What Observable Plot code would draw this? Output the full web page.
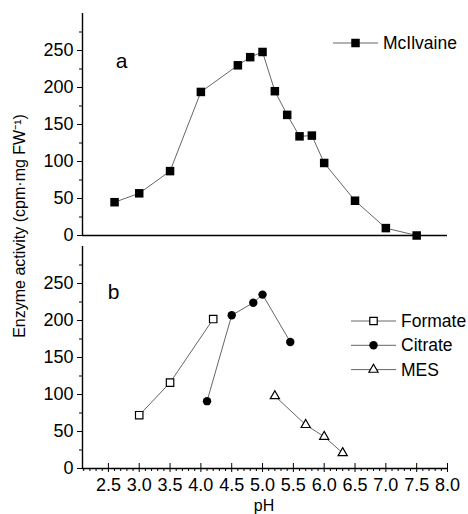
<!DOCTYPE html>
<html><head><meta charset="utf-8">
<script src="https://cdn.jsdelivr.net/npm/d3@7"></script>
<script src="https://cdn.jsdelivr.net/npm/@observablehq/plot@0.6"></script>
<style>
body{margin:0;background:#fff;}
#chart{position:relative;width:468px;height:514px;font-family:"Liberation Sans",Arial,sans-serif;color:#000;overflow:hidden;}
#chart svg{position:absolute;left:0;}
</style></head><body><div id="chart"></div>
<script>
// ---- data ----
const mcX = [2.6, 3.0, 3.5, 4.0, 4.6, 4.8, 5.0, 5.2, 5.4, 5.6, 5.8, 6.0, 6.5, 7.0, 7.5];
const mcY = [45, 57, 87, 194, 230, 241, 248, 195, 163, 134, 135, 98, 47, 10, 0];
const formateX = [3.0, 3.5, 4.2];
const formateY = [72, 116, 202];
const citrateX = [4.1, 4.5, 4.85, 5.0, 5.45];
const citrateY = [91, 207, 224, 235, 171];
const mesX = [5.2, 5.7, 6.0, 6.3];
const mesY = [98, 59, 43, 21];
const xTicks = [2.5, 3.0, 3.5, 4.0, 4.5, 5.0, 5.5, 6.0, 6.5, 7.0, 7.5, 8.0];
const xMinor = d3.range(21, 80).map(d => d / 10).filter(d => Math.round(d * 10) % 5 !== 0);
const yTicks = [0, 50, 100, 150, 200, 250];
const yMinor = [25, 75, 125, 175, 225, 275];
const seriesNames = ["Formate", "Citrate", "MES"];
const topName = "McIlvaine";
const yTitle = "Enzyme activity (cpm\u00B7mg FW\u207B\u00B9)";
const xTitle = "pH";

const xDomain = [2.08, 8.0];
const yDomain = [0, 300];
const font = '"Liberation Sans", Arial, sans-serif';
const lineColor = "#666";
const pts = (xs, ys) => xs.map((x, i) => ({x, y: ys[i]}));

const chart = document.getElementById("chart");

function yAxes() {
  return [
    Plot.axisY(yMinor, {tickSize: 3, tickFormat: () => "", label: null}),
    Plot.axisY(yTicks, {tickSize: 5, tickPadding: 4, label: null}),
  ];
}

// ---- top panel (a) ----
const topPlot = Plot.plot({
  width: 468, height: 240,
  marginLeft: 82, marginRight: 21, marginTop: 13, marginBottom: 5,
  style: {fontFamily: font, fontSize: "18px", color: "#000", background: "transparent", overflow: "visible"},
  x: {domain: xDomain, axis: null},
  y: {domain: yDomain, axis: null},
  marks: [
    ...yAxes(),
    Plot.ruleX([xDomain[0]], {stroke: "#000", strokeWidth: 1.4}),
    Plot.ruleY([0], {stroke: "#000", strokeWidth: 1.4}),
    Plot.line(pts(mcX, mcY), {x: "x", y: "y", stroke: lineColor, strokeWidth: 1}),
    Plot.dot(pts(mcX, mcY), {x: "x", y: "y", symbol: "square", r: 4.8, fill: "#000", stroke: "none"}),
    Plot.text(["a"], {frameAnchor: "top-left", dx: 39, dy: 48, fontSize: 21, textAnchor: "middle", lineAnchor: "middle"})
  ]
});
topPlot.style.top = "0px";
chart.appendChild(topPlot);

// ---- bottom panel (b) ----
const botPlot = Plot.plot({
  width: 468, height: 274,
  marginLeft: 82, marginRight: 21, marginTop: 6, marginBottom: 46,
  style: {fontFamily: font, fontSize: "18px", color: "#000", background: "transparent", overflow: "visible"},
  x: {domain: xDomain, axis: null},
  y: {domain: yDomain, axis: null},
  marks: [
    ...yAxes(),
    Plot.axisX(xMinor, {tickSize: 3, tickFormat: () => "", label: null}),
    Plot.axisX(xTicks, {tickSize: 4, tickPadding: 6, tickFormat: d3.format(".1f"), label: null}),
    Plot.ruleX(xTicks, {insetTop: 222 - 5, stroke: "#000", strokeWidth: 1}),
    Plot.ruleX([xDomain[0]], {stroke: "#000", strokeWidth: 1.4}),
    Plot.ruleY([0], {stroke: "#000", strokeWidth: 1.4}),
    Plot.line(pts(formateX, formateY), {x: "x", y: "y", stroke: lineColor, strokeWidth: 1}),
    Plot.line(pts(citrateX, citrateY), {x: "x", y: "y", stroke: lineColor, strokeWidth: 1}),
    Plot.line(pts(mesX, mesY), {x: "x", y: "y", stroke: lineColor, strokeWidth: 1}),
    Plot.dot(pts(formateX, formateY), {x: "x", y: "y", symbol: "square", r: 4.2, fill: "#fff", stroke: "#000", strokeWidth: 1.2}),
    Plot.dot(pts(citrateX, citrateY), {x: "x", y: "y", symbol: "circle", r: 4.2, fill: "#000", stroke: "none"}),
    Plot.dot(pts(mesX, mesY), {x: "x", y: "y", symbol: "triangle", r: 3.4, fill: "#fff", stroke: "#000", strokeWidth: 1.2}),
    Plot.text(["b"], {frameAnchor: "top-left", dx: 31, dy: 46, fontSize: 21, textAnchor: "middle", lineAnchor: "middle"})
  ]
});
botPlot.style.top = "240px";
chart.appendChild(botPlot);

// ---- legends ----
function legend(svg, items, x0, y0, step) {
  const g = d3.select(svg).append("g").attr("font-family", font).attr("font-size", 17.5).attr("text-anchor", "start");
  items.forEach((it, i) => {
    const y = y0 + i * step;
    g.append("line").attr("x1", x0).attr("x2", x0 + 45).attr("y1", y).attr("y2", y)
      .attr("stroke", lineColor).attr("stroke-width", 1);
    g.append("path").attr("transform", `translate(${x0 + 22.5},${y})`)
      .attr("d", d3.symbol(it.symbol, it.r * it.r * Math.PI)())
      .attr("fill", it.fill).attr("stroke", it.stroke).attr("stroke-width", it.sw);
    g.append("text").attr("x", x0 + 50).attr("y", y).attr("dy", "0.35em")
      .attr("fill", "#000").attr("text-anchor", "start").text(it.name);
  });
}
legend(topPlot, [{name: topName, symbol: d3.symbolSquare, r: 4.8, fill: "#000", stroke: "none", sw: 0}], 333, 43, 0);
legend(botPlot, [
  {name: seriesNames[0], symbol: d3.symbolSquare, r: 4.2, fill: "#fff", stroke: "#000", sw: 1.2},
  {name: seriesNames[1], symbol: d3.symbolCircle, r: 4.2, fill: "#000", stroke: "none", sw: 0},
  {name: seriesNames[2], symbol: d3.symbolTriangle, r: 3.4, fill: "#fff", stroke: "#000", sw: 1.2}
], 351, 81, 24.3);

// ---- axis titles (overlay) ----
const overlay = d3.select(chart).append("svg")
  .attr("width", 468).attr("height", 514)
  .style("top", "0px").style("pointer-events", "none")
  .attr("font-family", font);
overlay.append("text")
  .attr("transform", "translate(19,226) rotate(-90)")
  .attr("text-anchor", "middle").attr("dy", "0.35em")
  .attr("font-size", 16).attr("fill", "#000")
  .text(yTitle);
overlay.append("text")
  .attr("x", 264).attr("y", 511)
  .attr("text-anchor", "middle")
  .attr("font-size", 16).attr("fill", "#000")
  .text(xTitle);
</script></body></html>
